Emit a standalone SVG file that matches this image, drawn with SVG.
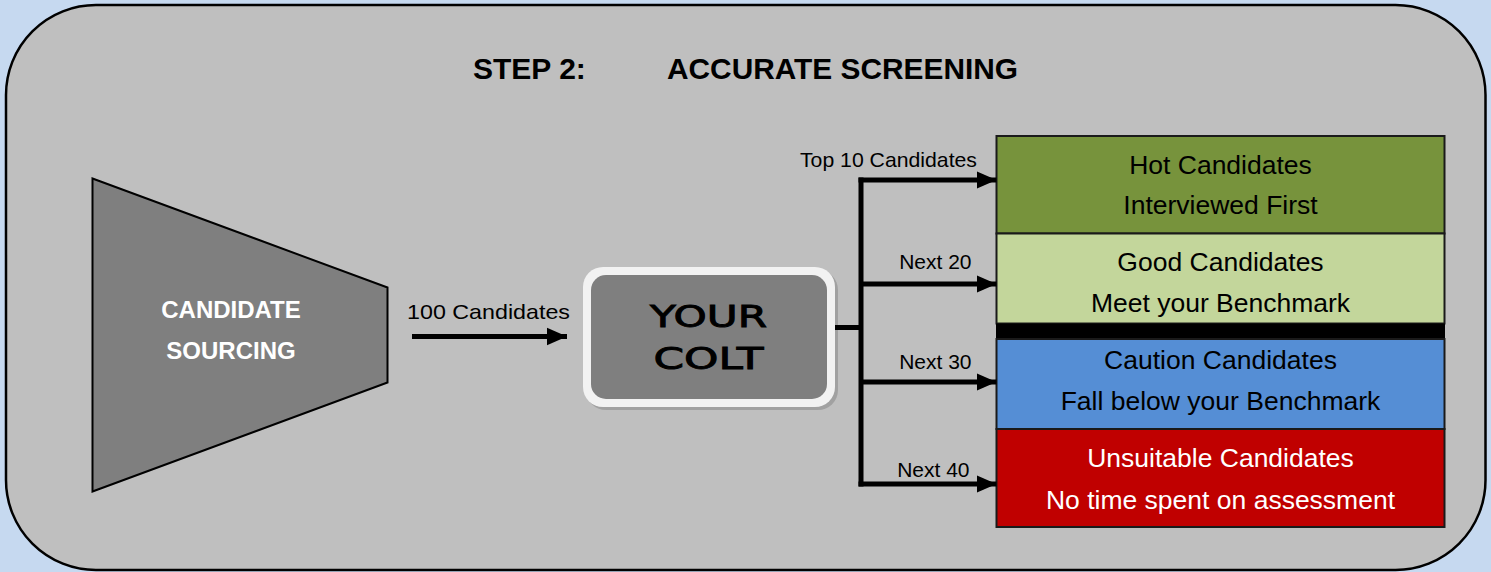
<svg xmlns="http://www.w3.org/2000/svg" width="1491" height="572" viewBox="0 0 1491 572">
  <style>
    .lbl { font-family: "Liberation Sans", Arial, sans-serif; font-size: 21px; fill: #000; }
    .box-t { font-family: "Liberation Sans", Arial, sans-serif; font-size: 26.5px; text-anchor: middle; }
    .conn { stroke: #000; stroke-width: 5; fill: none; }
    .tier { stroke: #1a1a1a; stroke-width: 2; }
    .colt-t { font-family: "DejaVu Sans", sans-serif; font-size: 30px; fill: #000; stroke: #000; stroke-width: 0.9; text-anchor: middle; }
  </style>
  <defs>
    <marker id="arr" markerWidth="4" markerHeight="4" refX="4" refY="2" orient="auto" markerUnits="strokeWidth">
      <path d="M0,0.25 L4,2 L0,3.75 Z" fill="#000"/>
    </marker>
  </defs>
  <rect x="0" y="0" width="1491" height="572" fill="#c6d9f0"/>
  <rect id="panel" x="6" y="5" width="1479.5" height="565" rx="90" ry="90" fill="#bfbfbf" stroke="#000" stroke-width="2.5"/>

  <g id="title">
    <text x="473" y="79" font-family="Liberation Sans, Arial, sans-serif" font-weight="bold" font-size="30" fill="#000">STEP 2:</text>
    <text x="667" y="79" font-family="Liberation Sans, Arial, sans-serif" font-weight="bold" font-size="30" fill="#000" textLength="351" lengthAdjust="spacingAndGlyphs">ACCURATE SCREENING</text>
  </g>

  <g id="sourcing">
    <polygon points="92.5,178.5 387.5,287.5 387.5,382.5 92.5,491.5" fill="#7f7f7f" stroke="#000" stroke-width="2"/>
    <text x="231" y="318" font-family="Liberation Sans, Arial, sans-serif" font-weight="bold" font-size="24" fill="#fff" text-anchor="middle">CANDIDATE</text>
    <text x="231" y="359" font-family="Liberation Sans, Arial, sans-serif" font-weight="bold" font-size="24" fill="#fff" text-anchor="middle">SOURCING</text>
  </g>

  <g id="colt">
    <rect x="586" y="270" width="252" height="140" rx="20" fill="#9a9a9a" opacity="0.8"/>
    <rect x="583" y="267" width="252" height="140" rx="20" fill="#f2f2f2"/>
    <rect x="591" y="275" width="236" height="124" rx="15" fill="#7f7f7f"/>
    <text class="colt-t" x="708.5" y="327" textLength="117" lengthAdjust="spacingAndGlyphs">YOUR</text>
    <text class="colt-t" x="708.5" y="368.5" textLength="110" lengthAdjust="spacingAndGlyphs">COLT</text>
  </g>

  <g id="tier-hot">
    <rect class="tier" x="996.5" y="136" width="448" height="97.5" fill="#77933c"/>
    <text class="box-t" x="1220.5" y="174" fill="#000">Hot Candidates</text>
    <text class="box-t" x="1220.5" y="214" fill="#000">Interviewed First</text>
  </g>
  <g id="tier-good">
    <rect class="tier" x="996.5" y="233.5" width="448" height="90" fill="#c3d69b"/>
    <text class="box-t" x="1220.5" y="271" fill="#000">Good Candidates</text>
    <text class="box-t" x="1220.5" y="312" fill="#000">Meet your Benchmark</text>
  </g>
  <rect id="divider" x="996" y="323.5" width="449" height="15.5" fill="#000"/>
  <g id="tier-caution">
    <rect class="tier" x="996.5" y="339" width="448" height="90" fill="#558ed5"/>
    <text class="box-t" x="1220.5" y="369" fill="#000">Caution Candidates</text>
    <text class="box-t" x="1220.5" y="410" fill="#000">Fall below your Benchmark</text>
  </g>
  <g id="tier-unsuitable">
    <rect class="tier" x="996.5" y="429" width="448" height="98" fill="#c00000"/>
    <text class="box-t" x="1220.5" y="467" fill="#fff">Unsuitable Candidates</text>
    <text class="box-t" x="1220.5" y="509" fill="#fff">No time spent on assessment</text>
  </g>

  <g id="connectors">
    <line class="conn" x1="412" y1="336.5" x2="567" y2="336.5" marker-end="url(#arr)"/>
    <polyline class="conn" points="835,327.5 861,327.5"/>
    <line class="conn" x1="861" y1="177.5" x2="861" y2="486.5"/>
    <line class="conn" x1="858.5" y1="180" x2="996.5" y2="180" marker-end="url(#arr)"/>
    <line class="conn" x1="861" y1="284" x2="996.5" y2="284" marker-end="url(#arr)"/>
    <line class="conn" x1="861" y1="382" x2="996.5" y2="382" marker-end="url(#arr)"/>
    <line class="conn" x1="858.5" y1="484" x2="996.5" y2="484" marker-end="url(#arr)"/>
  </g>

  <g id="labels">
    <text class="lbl" x="570" y="319" text-anchor="end" textLength="163" lengthAdjust="spacingAndGlyphs">100 Candidates</text>
    <text class="lbl" x="977" y="167" text-anchor="end" textLength="177" lengthAdjust="spacingAndGlyphs">Top 10 Candidates</text>
    <text class="lbl" x="971.5" y="269" text-anchor="end">Next 20</text>
    <text class="lbl" x="971.5" y="369" text-anchor="end">Next 30</text>
    <text class="lbl" x="969.5" y="477" text-anchor="end">Next 40</text>
  </g>
</svg>
